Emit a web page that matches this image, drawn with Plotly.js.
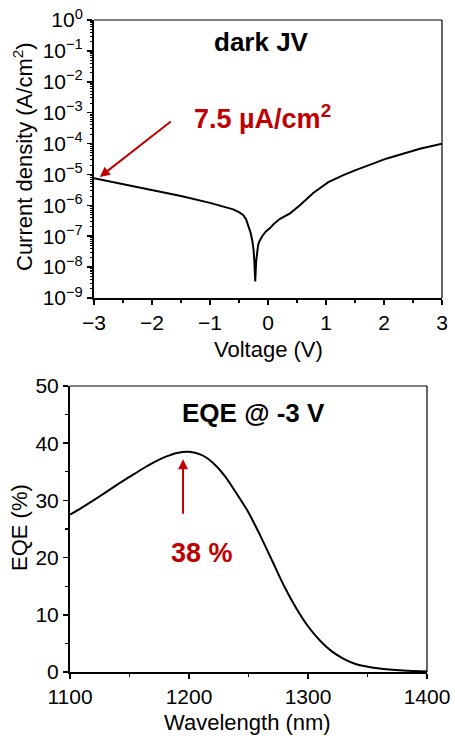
<!DOCTYPE html>
<html>
<head>
<meta charset="utf-8">
<script src="https://cdn.plot.ly/plotly-3.0.1.min.js"></script>
<style>html,body{margin:0;padding:0;background:#fff;}#chart{width:455px;height:738px;}</style>
</head>
<body>
<div id="chart"></div>
<script>
// ---- Dark J-V data ----
const voltage = [-3, -2.5, -2, -1.5, -1, -0.83, -0.7, -0.6, -0.5, -0.43, -0.38, -0.34, -0.3, -0.27, -0.25, -0.235, -0.22, -0.205, -0.19, -0.17, -0.15, -0.1, -0.04, 0.03, 0.1, 0.2, 0.38, 0.55, 0.78, 1.04, 1.3, 1.5, 2.05, 2.62, 3];
const currentDensity = [7.5e-6, 4.8e-6, 3.2e-6, 2.0e-6, 1.2e-6, 1.0e-6, 8.5e-7, 7.4e-7, 6.0e-7, 4.9e-7, 3.6e-7, 2.3e-7, 1.3e-7, 7.0e-8, 3.8e-8, 1.5e-8, 3.4e-9, 1.5e-8, 3.2e-8, 5.2e-8, 6.8e-8, 1.0e-7, 1.4e-7, 1.8e-7, 2.5e-7, 3.6e-7, 5.5e-7, 1.0e-6, 2.5e-6, 5.6e-6, 9.5e-6, 1.35e-5, 3.3e-5, 6.8e-5, 9.8e-5];
const jvTickVals = [1e-9, 1e-8, 1e-7, 1e-6, 1e-5, 1e-4, 1e-3, 1e-2, 1e-1, 1];
const jvTickText = ['10<sup>−9</sup>', '10<sup>−8</sup>', '10<sup>−7</sup>', '10<sup>−6</sup>', '10<sup>−5</sup>', '10<sup>−4</sup>', '10<sup>−3</sup>', '10<sup>−2</sup>', '10<sup>−1</sup>', '10<sup>0</sup>'];
const vTickVals = [-3, -2, -1, 0, 1, 2, 3];
const vTickText = ['−3', '−2', '−1', '0', '1', '2', '3'];

// ---- EQE data ----
const wavelength = [1100, 1110, 1120, 1130, 1140, 1150, 1160, 1170, 1180, 1190, 1200, 1210, 1220, 1230, 1240, 1250, 1260, 1270, 1280, 1290, 1300, 1310, 1320, 1330, 1340, 1360, 1380, 1400];
const eqe = [27.5, 28.75, 30.05, 31.4, 32.8, 34.1, 35.4, 36.6, 37.6, 38.3, 38.5, 38.0, 36.6, 34.3, 31.2, 27.9, 23.8, 19.4, 15.0, 11.2, 8.0, 5.5, 3.6, 2.3, 1.4, 0.6, 0.25, 0.1];

// ---- Labels ----
const jvLabel = 'dark JV';
const jvValueLabel = '7.5 µA/cm<sup>2</sup>';
const eqeLabel = 'EQE @ -3 V';
const eqeValueLabel = '38 %';
const voltageTitle = 'Voltage (V)';
const jvYTitle = 'Current density (A/cm<sup>2</sup>)';
const wavelengthTitle = 'Wavelength (nm)';
const eqeYTitle = 'EQE (%)';
const jvArrowPoint = [-2.9, 8.3e-6];
const eqeArrowPoint = [1195, 37.2];

const FONT = 'Arial, "Liberation Sans", sans-serif';
const RED = '#C00000';
const py = v => 1 - v / 738;
const px = v => v / 455;

const traces = [
  {x: voltage, y: currentDensity, xaxis: 'x', yaxis: 'y', type: 'scatter', mode: 'lines',
   line: {color: '#000', width: 2}, showlegend: false, hoverinfo: 'skip'},
  {x: wavelength, y: eqe, xaxis: 'x2', yaxis: 'y2', type: 'scatter', mode: 'lines',
   line: {color: '#000', width: 2, shape: 'spline', smoothing: 0.8}, showlegend: false, hoverinfo: 'skip'}
];

const axisCommon = {
  showline: true, linecolor: '#000', linewidth: 2, mirror: false,
  ticks: 'outside', ticklen: 5, tickwidth: 1.5, tickcolor: '#000',
  showgrid: false, zeroline: false, automargin: false,
  tickfont: {family: FONT, size: 21, color: '#000'}
};

const titleFont = {family: FONT, size: 22, color: '#000'};

const layout = {
  width: 455, height: 738,
  margin: {l: 0, r: 0, t: 0, b: 0},
  paper_bgcolor: '#fff', plot_bgcolor: '#fff',
  font: {family: FONT, color: '#000'},
  showlegend: false,
  xaxis: Object.assign({}, axisCommon, {
    domain: [px(94), px(442)], anchor: 'y', range: [-3, 3],
    tickmode: 'array', tickvals: vTickVals, ticktext: vTickText,
    minor: {ticks: 'outside', ticklen: 3, tickwidth: 1.2, tickcolor: '#000', dtick: 0.5, tick0: 0}
  }),
  yaxis: Object.assign({}, axisCommon, {
    domain: [py(298), py(20)], anchor: 'x', type: 'log', range: [-9, 0],
    tickmode: 'array', tickvals: jvTickVals, ticktext: jvTickText,
    minor: {ticks: 'outside', ticklen: 2.5, tickwidth: 1, tickcolor: '#000', tickmode: 'linear', dtick: 'D1'}
  }),
  xaxis2: Object.assign({}, axisCommon, {
    domain: [px(70), px(427)], anchor: 'y2', range: [1100, 1400],
    tickmode: 'linear', tick0: 1100, dtick: 100,
    minor: {ticks: 'outside', ticklen: 3, tickwidth: 1.2, tickcolor: '#000', dtick: 50, tick0: 1100}
  }),
  yaxis2: Object.assign({}, axisCommon, {
    domain: [py(672), py(386)], anchor: 'x2', range: [0, 50],
    tickmode: 'linear', tick0: 0, dtick: 10,
    minor: {ticks: 'outside', ticklen: 3, tickwidth: 1.2, tickcolor: '#000', dtick: 5, tick0: 0}
  }),
  shapes: [
    {type: 'line', xref: 'x domain', yref: 'y domain', x0: 0, x1: 1, y0: 1, y1: 1, line: {color: '#000', width: 1.2}},
    {type: 'line', xref: 'x domain', yref: 'y domain', x0: 1, x1: 1, y0: 0, y1: 1, line: {color: '#000', width: 1.2}},
    {type: 'line', xref: 'x2 domain', yref: 'y2 domain', x0: 0, x1: 1, y0: 1, y1: 1, line: {color: '#000', width: 1.2}},
    {type: 'line', xref: 'x2 domain', yref: 'y2 domain', x0: 1, x1: 1, y0: 0, y1: 1, line: {color: '#000', width: 1.2}}
  ],
  annotations: [
    // axis titles
    {xref: 'paper', yref: 'paper', x: px(268), y: py(349), xanchor: 'center', yanchor: 'middle',
     text: voltageTitle, showarrow: false, font: titleFont},
    {xref: 'paper', yref: 'paper', x: px(23), y: py(157), xanchor: 'center', yanchor: 'middle', textangle: -90,
     text: jvYTitle, showarrow: false, font: titleFont},
    {xref: 'paper', yref: 'paper', x: px(248), y: py(722), xanchor: 'center', yanchor: 'middle',
     text: wavelengthTitle, showarrow: false, font: titleFont},
    {xref: 'paper', yref: 'paper', x: px(19), y: py(528), xanchor: 'center', yanchor: 'middle', textangle: -90,
     text: eqeYTitle, showarrow: false, font: titleFont},
    // in-plot labels
    {xref: 'paper', yref: 'paper', x: px(261), y: py(42), xanchor: 'center', yanchor: 'middle',
     text: '<b>' + jvLabel + '</b>', showarrow: false, font: {family: FONT, size: 26, color: '#000'}},
    {xref: 'paper', yref: 'paper', x: px(262), y: py(117), xanchor: 'center', yanchor: 'middle',
     text: '<b>' + jvValueLabel + '</b>', showarrow: false, font: {family: FONT, size: 27, color: RED}},
    {xref: 'x', yref: 'y', x: jvArrowPoint[0], y: Math.log10(jvArrowPoint[1]), text: ' ',
     showarrow: true, ax: 73, ay: -57, arrowhead: 2, arrowsize: 1, arrowwidth: 2, arrowcolor: RED,
     font: {size: 2}},
    {xref: 'paper', yref: 'paper', x: px(253), y: py(413), xanchor: 'center', yanchor: 'middle',
     text: '<b>' + eqeLabel + '</b>', showarrow: false, font: {family: FONT, size: 26, color: '#000'}},
    {xref: 'paper', yref: 'paper', x: px(202), y: py(553), xanchor: 'center', yanchor: 'middle',
     text: '<b>' + eqeValueLabel + '</b>', showarrow: false, font: {family: FONT, size: 27, color: RED}},
    {xref: 'x2', yref: 'y2', x: eqeArrowPoint[0], y: eqeArrowPoint[1], text: ' ',
     showarrow: true, ax: 0, ay: 57, arrowhead: 2, arrowsize: 1, arrowwidth: 2, arrowcolor: RED,
     font: {size: 2}}
  ]
};

Plotly.newPlot('chart', traces, layout, {staticPlot: true, displayModeBar: false});
</script>
</body>
</html>
